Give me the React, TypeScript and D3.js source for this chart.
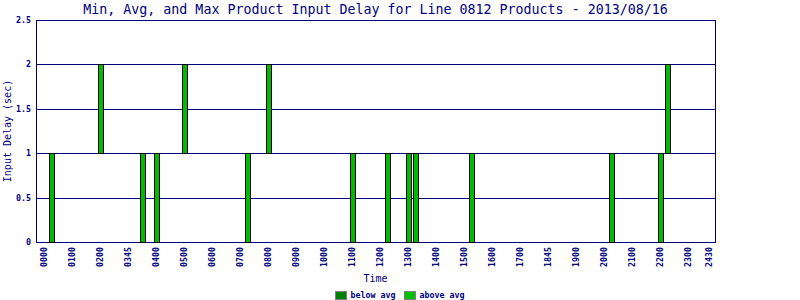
import React from "react";
import * as d3 from "d3";

const title = "Min, Avg, and Max Product Input Delay for Line 0812 Products - 2013/08/16";
const slotCount = 96;
const tickSlots = [0, 4, 8, 12, 16, 20, 24, 28, 32, 36, 40, 44, 48, 52, 56, 60, 64, 68, 72, 76, 80, 84, 88, 92, 95];
const tickLabels = ["0000", "0100", "0200", "0345", "0400", "0500", "0600", "0700", "0800", "0900", "1000", "1100", "1200", "1300", "1400", "1500", "1600", "1700", "1845", "1900", "2000", "2100", "2200", "2300", "2430"];
const barSlots = [1, 8, 14, 16, 20, 29, 32, 44, 49, 52, 53, 61, 81, 88, 89];
const barMin = [0, 1, 0, 0, 1, 0, 1, 0, 0, 0, 0, 0, 0, 0, 1];
const barMax = [1, 2, 1, 1, 2, 1, 2, 1, 1, 1, 1, 1, 1, 1, 2];
const yTicks = [0, 0.5, 1, 1.5, 2, 2.5];
const legendItems = ["below avg", "above avg"];
const legendColors = ["#008000", "#00c000"];

const NAVY = "#000080";
const MONO = "'DejaVu Sans Mono', 'Liberation Mono', monospace";

export default function App() {
  const W = 800, H = 300;
  const left = 36, right = 715, top = 20, bottom = 242;
  const x = d3.scaleBand<number>().domain(d3.range(slotCount)).range([40.5, 712.5]);
  const y = d3.scaleLinear().domain([0, 2.5]).range([bottom, top]);
  const cx = (j: number) => (x(j) as number) + x.bandwidth() / 2;
  const ry = (v: number) => Math.round(y(v)) + 0.5;
  const bw = 5;

  return (
    <svg width={W} height={H} style={{ position: "absolute", left: 0, top: 0, background: "#fff" }}>
      <rect x={0} y={0} width={W} height={H} fill="#fff" />
      <text x={(left + right) / 2} y={13.5} textAnchor="middle" fontFamily={MONO} fontSize={13.3} fill={NAVY}>{title}</text>
      {/* grid */}
      {yTicks.map((t) => (
        <line key={t} x1={left} x2={right + 1} y1={ry(t)} y2={ry(t)} stroke={NAVY} strokeWidth={1} />
      ))}
      <line x1={left + 0.5} x2={left + 0.5} y1={top} y2={bottom + 1} stroke={NAVY} />
      <line x1={right + 0.5} x2={right + 0.5} y1={top} y2={bottom + 1} stroke={NAVY} />
      {/* y labels */}
      {yTicks.map((t) => (
        <text key={t} x={31} y={y(t)} dy="0.35em" textAnchor="end" fontFamily={MONO} fontSize={8.3} fontWeight="bold" fill={NAVY}>{String(t)}</text>
      ))}
      {/* bars */}
      {barSlots.map((j, i) => {
        const y0 = ry(barMin[i]);
        const y1 = ry(barMax[i]);
        return (
          <rect key={i} x={Math.round(cx(j) - bw / 2) + 0.5} y={y1} width={bw} height={y0 - y1} fill="#00bb00" stroke="#000" strokeWidth={1} />
        );
      })}
      {/* x labels */}
      {tickSlots.map((j, i) => (
        <text key={j} transform={`translate(${cx(j)},247) rotate(-90)`} dy="0.35em" textAnchor="end" fontFamily={MONO} fontSize={8.3} fontWeight="bold" fill={NAVY}>{tickLabels[i]}</text>
      ))}
      {/* axis titles */}
      <text x={(left + right) / 2} y={278} dy="0.35em" textAnchor="middle" fontFamily={MONO} fontSize={10} fill={NAVY}>Time</text>
      <text transform={`translate(7,${(top + bottom) / 2}) rotate(-90)`} dy="0.35em" textAnchor="middle" fontFamily={MONO} fontSize={10} fill={NAVY}>Input Delay (sec)</text>
      {/* legend */}
      {legendItems.map((name, i) => {
        const lx = 335 + i * 69;
        return (
          <g key={name}>
            <rect x={lx + 0.5} y={291.5} width={11} height={8} fill={legendColors[i]} stroke="#808080" strokeWidth={1} />
            <text x={lx + 15.5} y={295.5} dy="0.35em" fontFamily={MONO} fontSize={8.3} fontWeight="bold" fill={NAVY}>{name}</text>
          </g>
        );
      })}
    </svg>
  );
}
